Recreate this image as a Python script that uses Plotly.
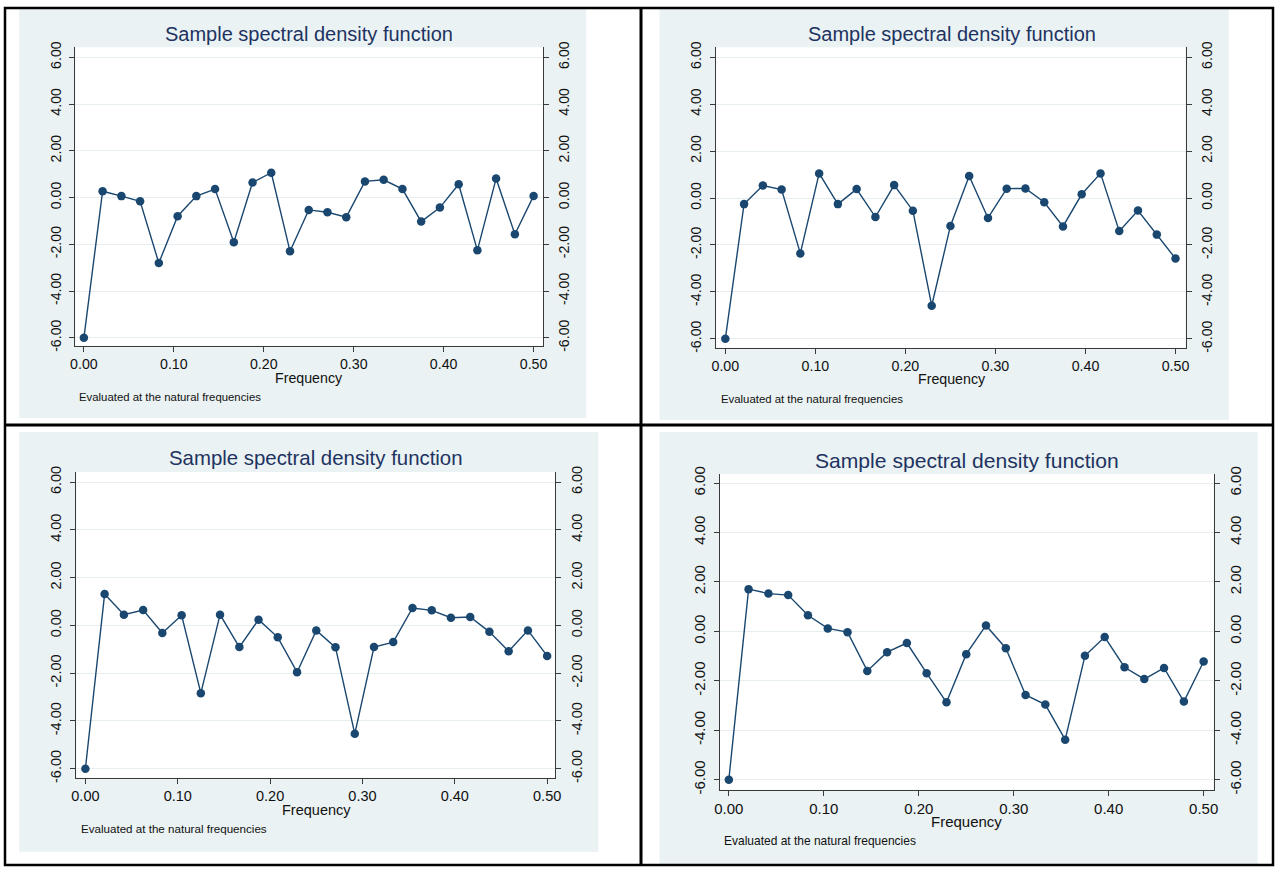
import plotly.graph_objects as go

# Natural frequencies k/48, k = 0..24
freq = [0.0000, 0.0208, 0.0417, 0.0625, 0.0833, 0.1042, 0.1250, 0.1458, 0.1667,
        0.1875, 0.2083, 0.2292, 0.2500, 0.2708, 0.2917, 0.3125, 0.3333, 0.3542,
        0.3750, 0.3958, 0.4167, 0.4375, 0.4583, 0.4792, 0.5000]

# Log sample spectral density for each of the four series
sdf_a = [-6.00, 0.27, 0.06, -0.16, -2.80, -0.80, 0.06, 0.36, -1.91, 0.64, 1.06, -2.30, -0.53,
         -0.63, -0.84, 0.69, 0.76, 0.36, -1.03, -0.43, 0.57, -2.26, 0.81, -1.57, 0.07]
sdf_b = [-6.00, -0.26, 0.53, 0.36, -2.36, 1.05, -0.26, 0.38, -0.81, 0.55, -0.54, -4.59, -1.19,
         0.94, -0.85, 0.40, 0.41, -0.18, -1.21, 0.16, 1.05, -1.41, -0.53, -1.56, -2.58]
sdf_c = [-6.00, 1.31, 0.45, 0.64, -0.32, 0.42, -2.84, 0.45, -0.91, 0.24, -0.50, -1.96, -0.21,
         -0.92, -4.54, -0.91, -0.70, 0.73, 0.63, 0.32, 0.35, -0.27, -1.08, -0.21, -1.28]
sdf_d = [-6.00, 1.71, 1.53, 1.47, 0.65, 0.12, -0.03, -1.60, -0.84, -0.47, -1.69, -2.87, -0.92,
         0.24, -0.68, -2.57, -2.96, -4.38, -0.99, -0.23, -1.45, -1.93, -1.48, -2.84, -1.22]
series = [sdf_a, sdf_b, sdf_c, sdf_d]

y_tick_vals = [-6, -4, -2, 0, 2, 4, 6]
y_tick_text = ["-6.00", "-4.00", "-2.00", "0.00", "2.00", "4.00", "6.00"]
x_tick_vals = [0.0, 0.1, 0.2, 0.3, 0.4, 0.5]
x_tick_text = ["0.00", "0.10", "0.20", "0.30", "0.40", "0.50"]

title_text = "Sample spectral density function"
x_title_text = "Frequency"
note_text = "Evaluated at the natural frequencies"

# Figure size; the page adds the body's 8px margin and the whole
# (W+16)x(H+16) page is shown at W x H, so layout below is given in
# shown-page pixels and converted to figure pixels.
W, H = 1279, 871
PAD = 8
KX = W / (W + 2 * PAD)
KY = H / (H + 2 * PAD)
FS = 2.0 / (KX + KY)

NAVY = "#1a476f"
TITLE_NAVY = "#1e3361"
BG = "#eaf2f3"
GRID = "#e6eef0"
AXIS = "#3a3a3a"
FONT = "Liberation Sans, Arial, sans-serif"

# Layout of each panel: background box, plot box, tick anchors, text anchors
panels = [
    dict(bg=(22, 7, 587, 417), plot=(78, 47, 544, 345), x0=86.5, x05=534.5, y6=57, ym6=337,
         title=(311, 34), xtitle=(311, 377), note=(80, 396), s=1.0),
    dict(bg=(660, 7, 1227, 419), plot=(716, 47, 1184, 347), x0=725.5, x05=1174, y6=57, ym6=338,
         title=(951, 34), xtitle=(951, 378), note=(719, 398), s=1.0),
    dict(bg=(22, 431, 599, 850), plot=(79, 471, 556, 776), x0=88, x05=548, y6=481, ym6=767,
         title=(318, 457), xtitle=(318, 808), note=(82, 827), s=1.02),
    dict(bg=(660, 431, 1256, 864), plot=(720, 473, 1212, 788), x0=729, x05=1202, y6=482, ym6=778,
         title=(966, 459), xtitle=(966, 820), note=(722, 839), s=1.055),
]


def px(x):
    return min(max((x / KX - PAD) / W, 0.0), 1.0)


def py(y):
    return min(max(1 - (y / KY - PAD) / H, 0.0), 1.0)


fig = go.Figure()
shapes = []
annotations = []
layout = {}

for i, (p, vals) in enumerate(zip(panels, series)):
    n = i + 1
    sfx = "" if n == 1 else str(n)
    xa, ya, yr = "x" + sfx, "y" + sfx, "y" + str(n + 4)
    s = p["s"] * FS

    l, t, r, b = p["plot"]
    xu = (p["x05"] - p["x0"]) / 0.5
    yu = (p["ym6"] - p["y6"]) / 12.0
    x_range = [-(p["x0"] - l) / xu, 0.5 + (r - p["x05"]) / xu]
    y_range = [-6 - (b - p["ym6"]) / yu, 6 + (p["y6"] - t) / yu]

    tick_font = dict(family=FONT, size=14 * s, color="#111111")

    layout["xaxis" + sfx] = dict(
        domain=[px(l), px(r)], anchor=ya, range=x_range, autorange=False,
        tickvals=x_tick_vals, ticktext=x_tick_text, ticks="outside", ticklen=5,
        tickwidth=1, tickcolor=AXIS, showline=True, linecolor=AXIS, linewidth=1.2,
        showgrid=False, zeroline=False, tickfont=tick_font, fixedrange=True,
    )
    common_y = dict(
        range=y_range, autorange=False, tickvals=y_tick_vals, ticktext=y_tick_text,
        ticks="outside", ticklen=5, tickwidth=1, tickcolor=AXIS, showline=True,
        linecolor=AXIS, linewidth=1.2, zeroline=False, tickangle=-90,
        tickfont=tick_font, fixedrange=True, ticklabelstandoff=3,
    )
    layout["yaxis" + sfx] = dict(domain=[py(b), py(t)], anchor=xa, showgrid=True,
                                 gridcolor=GRID, gridwidth=1.3, **common_y)
    layout["yaxis" + str(n + 4)] = dict(overlaying=ya, side="right", anchor=xa,
                                        showgrid=False, **common_y)

    # Panel background, then white plot region
    bl, bt, br, bb = p["bg"]
    shapes.append(dict(type="rect", xref="paper", yref="paper", layer="below",
                       x0=px(bl), x1=px(br), y0=py(bb), y1=py(bt),
                       fillcolor=BG, line=dict(width=0)))
    shapes.append(dict(type="rect", xref="paper", yref="paper", layer="below",
                       x0=px(l), x1=px(r), y0=py(b), y1=py(t),
                       fillcolor="white", line=dict(width=0)))

    fig.add_trace(go.Scatter(
        x=freq, y=vals, mode="lines+markers", xaxis=xa, yaxis=ya,
        line=dict(color=NAVY, width=1.4), marker=dict(color=NAVY, size=8.5),
        showlegend=False, hoverinfo="x+y",
    ))
    fig.add_trace(go.Scatter(x=[None], y=[None], xaxis=xa, yaxis=yr,
                             showlegend=False, hoverinfo="skip"))

    annotations.append(dict(text=title_text, xref="paper", yref="paper",
                            x=px(p["title"][0]), y=py(p["title"][1]),
                            xanchor="center", yanchor="middle", showarrow=False,
                            font=dict(family=FONT, size=19.7 * s, color=TITLE_NAVY)))
    annotations.append(dict(text=x_title_text, xref="paper", yref="paper",
                            x=px(p["xtitle"][0]), y=py(p["xtitle"][1]),
                            xanchor="center", yanchor="middle", showarrow=False,
                            font=dict(family=FONT, size=14 * s, color="#111111")))
    annotations.append(dict(text=note_text, xref="paper", yref="paper",
                            x=px(p["note"][0]), y=py(p["note"][1]),
                            xanchor="left", yanchor="middle", showarrow=False,
                            font=dict(family=FONT, size=11.2 * s, color="#111111")))

# Black table rules: dividers between panels
rules = [(640, 0, 643, H + 2 * PAD), (0, 422.5, W + 2 * PAD, 425.5)]
for x0, y0, x1, y1 in rules:
    shapes.append(dict(type="rect", xref="paper", yref="paper", layer="above",
                       x0=px(x0), x1=px(x1), y0=py(y1), y1=py(y0),
                       fillcolor="black", line=dict(width=0)))
# Outer frame along the figure edge
shapes.append(dict(type="rect", xref="paper", yref="paper", layer="above",
                   x0=0, x1=1, y0=0, y1=1, fillcolor="rgba(0,0,0,0)",
                   line=dict(color="black", width=2.5)))

fig.update_layout(
    width=W, height=H, margin=dict(l=0, r=0, t=0, b=0),
    paper_bgcolor="white", plot_bgcolor="rgba(0,0,0,0)",
    shapes=shapes, annotations=annotations, showlegend=False,
    **layout,
)

fig.write_html("out.html", config={"displayModeBar": False})
